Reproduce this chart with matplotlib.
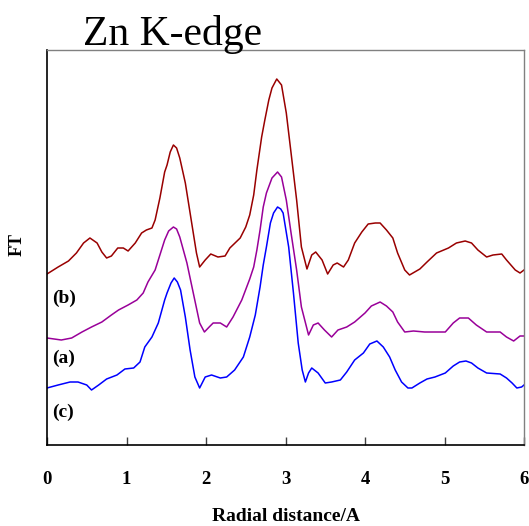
import matplotlib
matplotlib.use("Agg")
import matplotlib.pyplot as plt

plt.rcParams['font.family'] = ['Liberation Serif', 'DejaVu Serif']

# curve (b) - top, dark red
x_b = [0.00, 0.14, 0.27, 0.37, 0.46, 0.54, 0.63, 0.69, 0.75, 0.81,
       0.89, 0.96, 1.02, 1.11, 1.19, 1.25, 1.32, 1.36, 1.42, 1.48,
       1.51, 1.55, 1.59, 1.63, 1.67, 1.74, 1.82, 1.88, 1.92, 1.99,
       2.06, 2.15, 2.24, 2.30, 2.43, 2.50, 2.55, 2.60, 2.64, 2.70,
       2.74, 2.79, 2.83, 2.89, 2.95, 3.01, 3.07, 3.14, 3.20, 3.27,
       3.33, 3.38, 3.46, 3.53, 3.60, 3.65, 3.73, 3.79, 3.87, 3.96,
       4.04, 4.13, 4.19, 4.27, 4.35, 4.41, 4.50, 4.56, 4.69, 4.78,
       4.90, 5.05, 5.15, 5.26, 5.34, 5.42, 5.53, 5.61, 5.72, 5.78,
       5.89, 5.95, 6.00]
ft_b = [171, 178, 184, 192, 202, 207, 202, 193, 187, 189,
        197, 197, 194, 202, 212, 215, 217, 225, 247, 273,
        280, 293, 300, 297, 287, 262, 222, 192, 178, 185,
        191, 188, 189, 197, 207, 218, 230, 250, 275, 308,
        325, 345, 357, 366, 360, 332, 292, 245, 198, 176,
        190, 193, 185, 171, 180, 182, 178, 185, 202, 213,
        221, 222, 222, 215, 207, 192, 175, 170, 176, 183,
        192, 197, 202, 204, 202, 195, 188, 190, 191, 185,
        175, 172, 175]

# curve (a) - middle, purple
x_a = [0.00, 0.18, 0.31, 0.44, 0.56, 0.69, 0.81, 0.90, 1.02, 1.13,
       1.21, 1.27, 1.36, 1.42, 1.48, 1.53, 1.59, 1.63, 1.67, 1.76,
       1.84, 1.92, 1.98, 2.04, 2.09, 2.18, 2.26, 2.34, 2.45, 2.55,
       2.60, 2.64, 2.68, 2.72, 2.76, 2.83, 2.90, 2.95, 3.01, 3.07,
       3.14, 3.20, 3.29, 3.35, 3.41, 3.49, 3.58, 3.66, 3.77, 3.87,
       4.00, 4.08, 4.19, 4.27, 4.35, 4.41, 4.50, 4.61, 4.75, 4.86,
       5.01, 5.11, 5.19, 5.30, 5.40, 5.53, 5.70, 5.78, 5.87, 5.95,
       6.00]
ft_a = [107, 105, 107, 113, 118, 123, 130, 135, 140, 145,
        152, 163, 175, 190, 205, 214, 218, 216, 208, 182,
        152, 122, 113, 118, 122, 122, 118, 128, 145, 166,
        178, 195, 215, 238, 252, 267, 273, 268, 245, 212,
        175, 138, 110, 120, 122, 115, 108, 115, 118, 123,
        132, 139, 143, 139, 133, 123, 113, 114, 113, 113,
        113, 122, 127, 127, 120, 113, 113, 108, 104, 109,
        109]

# curve (c) - bottom, blue
x_c = [0.00, 0.14, 0.29, 0.39, 0.50, 0.56, 0.65, 0.75, 0.88, 0.98,
       1.09, 1.17, 1.23, 1.32, 1.40, 1.48, 1.51, 1.56, 1.60, 1.64,
       1.68, 1.74, 1.80, 1.86, 1.92, 1.99, 2.07, 2.18, 2.26, 2.36,
       2.47, 2.55, 2.62, 2.68, 2.72, 2.76, 2.81, 2.85, 2.90, 2.94,
       2.97, 3.04, 3.10, 3.16, 3.21, 3.25, 3.29, 3.33, 3.41, 3.50,
       3.58, 3.69, 3.77, 3.87, 3.98, 4.06, 4.15, 4.23, 4.31, 4.38,
       4.46, 4.54, 4.59, 4.69, 4.78, 4.88, 5.01, 5.11, 5.19, 5.27,
       5.34, 5.42, 5.53, 5.70, 5.78, 5.85, 5.91, 5.97, 6.00]
ft_c = [57, 60, 63, 63, 60, 55, 60, 66, 70, 76,
        77, 83, 98, 108, 122, 145, 152, 162, 167, 163,
        155, 128, 95, 68, 57, 68, 70, 67, 68, 75,
        88, 108, 130, 158, 180, 198, 222, 232, 238, 236,
        232, 198, 152, 102, 75, 63, 72, 77, 72, 62,
        63, 65, 73, 85, 92, 101, 104, 98, 88, 75,
        63, 57, 57, 62, 66, 68, 72, 79, 83, 84,
        82, 77, 72, 71, 67, 62, 57, 58, 60]

labels = ['(b)', '(a)', '(c)']
label_y = [147, 87, 33]
xticks = [0, 1, 2, 3, 4, 5, 6]

fig = plt.figure(figsize=(5.29, 5.26), dpi=100)
ax = fig.add_axes([47 / 529, 1 - 445 / 526, 477 / 529, 395 / 526])

ax.plot(x_b, ft_b, color='#990000', lw=1.1)
ax.plot(x_a, ft_a, color='#990099', lw=1.1)
ax.plot(x_c, ft_c, color='#0000ff', lw=1.1)

for lab, yy in zip(labels, label_y):
    ax.text(0.07, yy, lab, fontsize=14, fontweight='bold', ha='left', va='center')

ax.set_xlim(0, 6)
ax.set_ylim(0, 395)
ax.set_xticks(xticks)
ax.set_xticklabels([str(t) for t in xticks], fontsize=13.5, fontweight='bold')
ax.set_yticks([])
ax.tick_params(axis='x', direction='in', length=6, width=1, color='#404040', pad=19)

ax.spines['left'].set_color('black')
ax.spines['bottom'].set_color('black')
ax.spines['left'].set_linewidth(1.2)
ax.spines['bottom'].set_linewidth(1.2)
ax.spines['top'].set_color('#808080')
ax.spines['right'].set_color('#808080')
ax.spines['top'].set_linewidth(1.0)
ax.spines['right'].set_linewidth(1.0)

ax.set_xlabel('Radial distance/A', fontsize=14, fontweight='bold', labelpad=14)
fig.text(17 / 529, 1 - 245 / 526, 'FT', rotation=90, fontsize=13, fontweight='bold',
         ha='center', va='center')
fig.text(83 / 529, 1 - 45 / 526, 'Zn K-edge', fontsize=30, ha='left', va='baseline')

fig.savefig('out.png', dpi=100)
